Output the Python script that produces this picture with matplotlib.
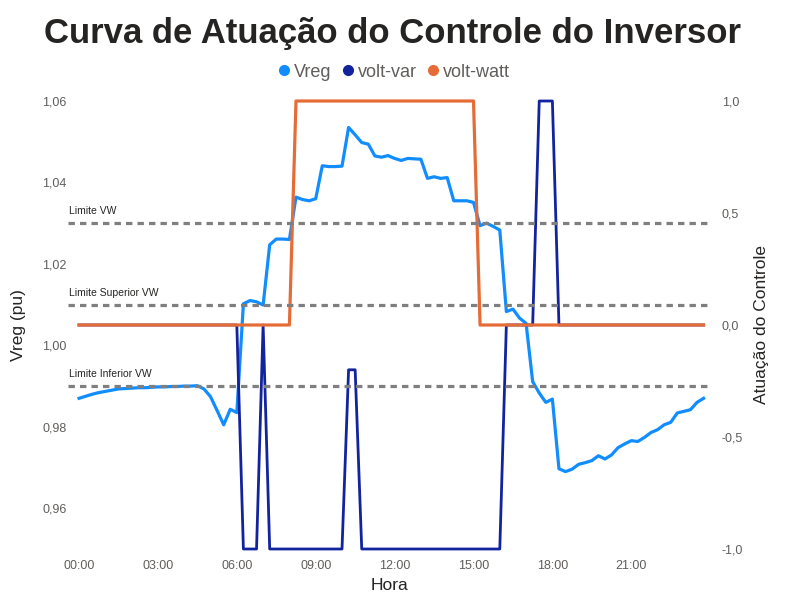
import matplotlib.pyplot as plt
from matplotlib.lines import Line2D

plt.rcParams['font.family'] = ['Liberation Sans', 'DejaVu Sans']

# 15-minute steps over the day (hours)
hours = [i * 0.25 for i in range(96)]
tick_hours = [0, 3, 6, 9, 12, 15, 18, 21]
tick_labels = ['00:00', '03:00', '06:00', '09:00', '12:00', '15:00', '18:00', '21:00']

vreg = [
    0.9870, 0.9875, 0.9880, 0.9884, 0.9887, 0.9890, 0.9893, 0.9894,
    0.9895, 0.9896, 0.9896, 0.9897, 0.9898, 0.9898, 0.9899, 0.9899,
    0.9900, 0.9900, 0.9901, 0.9893, 0.9874, 0.9840, 0.9805, 0.9843,
    0.9835, 1.0102, 1.0110, 1.0107, 1.0099, 1.0247, 1.0261, 1.0261,
    1.0260, 1.0364, 1.0358, 1.0355, 1.0360, 1.0441, 1.0439, 1.0439,
    1.0440, 1.0535, 1.0517, 1.0498, 1.0494, 1.0465, 1.0462, 1.0466,
    1.0459, 1.0454, 1.0459, 1.0458, 1.0457, 1.0410, 1.0414, 1.0410,
    1.0412, 1.0355, 1.0355, 1.0355, 1.0351, 1.0294, 1.0300, 1.0292,
    1.0283, 1.0083, 1.0089, 1.0067, 1.0054, 0.9911, 0.9883, 0.9860,
    0.9868, 0.9697, 0.9690, 0.9696, 0.9708, 0.9712, 0.9717, 0.9729,
    0.9721, 0.9731, 0.9749, 0.9758, 0.9766, 0.9764, 0.9774, 0.9786,
    0.9793, 0.9805, 0.9811, 0.9834, 0.9838, 0.9842, 0.9860, 0.9870,
]

volt_var = ([0] * 25 + [-1, -1, -1, 0] + [-1] * 12 + [-0.2, -0.2]
            + [-1] * 22 + [0] * 5 + [1, 1, 1] + [0] * 23)

volt_watt = [0] * 33 + [1] * 28 + [0] * 35

limits = [1.03, 1.01, 0.99]
limit_names = ['Limite VW', 'Limite Superior VW', 'Limite Inferior VW']

c_vreg = '#118DFF'
c_var = '#12239E'
c_watt = '#E66C37'
c_tick = '#605E5C'

fig = plt.figure(figsize=(7.85, 6.06), dpi=100)
pos = [68 / 785, 57 / 606, 644 / 785, 448 / 606]
ax = fig.add_axes(pos)
ax2 = ax.twinx()

xlim = (-0.42, 24.07)

ax.plot(hours, vreg, color=c_vreg, lw=2.3, clip_on=False, zorder=2)
ax.set_ylim(0.95, 1.06)
ax.set_xlim(*xlim)

ax2.plot(hours, volt_var, color=c_var, lw=2.0, clip_on=False, zorder=2)
ax2.plot(hours, volt_watt, color=c_watt, lw=2.3, clip_on=False, zorder=3)
ax2.set_ylim(-1, 1)

# reference lines on top of everything
ax3 = fig.add_axes(pos, sharex=ax, sharey=ax)
ax3.patch.set_visible(False)
ax3.axis('off')
for y, name in zip(limits, limit_names):
    ax3.axhline(y, color='#7F7F7F', lw=2.3, ls=(0, (2, 1.6)))
    ax3.annotate(name, xy=(xlim[0], y), xytext=(1, 5), textcoords='offset points',
                 fontsize=7.5, color='#252423', va='bottom', ha='left')

ax.set_yticks([0.96, 0.98, 1.00, 1.02, 1.04, 1.06])
ax.set_yticklabels(['0,96', '0,98', '1,00', '1,02', '1,04', '1,06'])
ax2.set_yticks([-1, -0.5, 0, 0.5, 1])
ax2.set_yticklabels(['-1,0', '-0,5', '0,0', '0,5', '1,0'])
ax.set_xticks(tick_hours)
ax.set_xticklabels(tick_labels)

for a in (ax, ax2):
    for s in a.spines.values():
        s.set_visible(False)
    a.tick_params(length=0, labelsize=9, labelcolor=c_tick)
ax.tick_params(axis='y', pad=1)
ax2.tick_params(axis='y', pad=7)
ax.tick_params(axis='x', pad=8)

ax.set_ylabel('Vreg (pu)', fontsize=12.5, color='#252423', labelpad=12)
ax2.set_ylabel('Atuação do Controle', fontsize=12.5, color='#252423', labelpad=8)
ax.set_xlabel('Hora', fontsize=12.5, color='#252423', labelpad=4)

fig.text(0.5, 0.945, 'Curva de Atuação do Controle do Inversor', ha='center', va='center',
         fontsize=25, fontweight='bold', color='#252423')

handles = [Line2D([], [], ls='none', marker='o', ms=7, color=c) for c in (c_vreg, c_var, c_watt)]
fig.legend(handles, ['Vreg', 'volt-var', 'volt-watt'], loc='center', bbox_to_anchor=(0.5, 0.881),
           ncol=3, frameon=False, fontsize=13, handletextpad=0.05, columnspacing=0.4,
           labelcolor='#605E5C', handlelength=1.0)

fig.savefig('out.png', dpi=100)
